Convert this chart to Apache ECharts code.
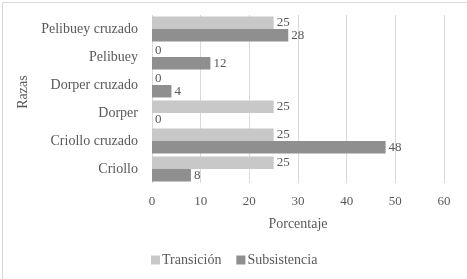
<!DOCTYPE html>
<html>
<head>
<meta charset="utf-8">
<script src="https://cdn.jsdelivr.net/npm/echarts@6/dist/echarts.min.js"></script>
<style>
html,body{margin:0;padding:0;background:#fff;font-family:serif;}
#c{width:467px;height:279px;}
#fontwarm{position:absolute;left:0;top:0;font-family:serif;font-size:14px;color:#fff;z-index:-1;}
</style>
</head>
<body>
<div id="fontwarm">Pelibuey 0123456789</div>
<div id="c"></div>
<script>
const categories = ['Pelibuey cruzado', 'Pelibuey', 'Dorper cruzado', 'Dorper', 'Criollo cruzado', 'Criollo'];
const transicion = [25, 0, 0, 25, 25, 25];
const subsistencia = [28, 12, 4, 0, 48, 8];
const xTicks = [0, 10, 20, 30, 40, 50, 60];

const FF = 'serif';
const chart = echarts.init(document.getElementById('c'));

function draw() {
  chart.setOption({
    animation: false,
    backgroundColor: '#fff',
    textStyle: { fontFamily: FF, color: '#595959' },
    graphic: [{
      type: 'rect', left: 0, top: 0,
      shape: { x: 0.5, y: 0.5, width: 466, height: 278 },
      style: { fill: 'none', stroke: '#d9d9d9', lineWidth: 1 }
    }],
    grid: { left: 152, right: 23, top: 15, bottom: 96, containLabel: false },
    legend: {
      left: 146, top: 248,
      itemWidth: 9, itemHeight: 9, itemGap: 15,
      icon: 'rect',
      textStyle: { fontFamily: FF, fontSize: 14, color: '#595959', padding: [0, 0, 0, -3] },
      data: ['Transición', 'Subsistencia']
    },
    xAxis: {
      type: 'value', min: xTicks[0], max: xTicks[xTicks.length - 1], interval: 10,
      name: 'Porcentaje', nameLocation: 'middle', nameGap: 34,
      nameTextStyle: { fontFamily: FF, fontSize: 14, color: '#595959' },
      axisLine: { show: false }, axisTick: { show: false },
      axisLabel: { fontFamily: FF, fontSize: 13, color: '#595959', margin: 12 },
      splitLine: { lineStyle: { color: '#d9d9d9', width: 1 } }
    },
    yAxis: {
      type: 'category', data: categories, inverse: true,
      name: 'Razas', nameLocation: 'middle', nameGap: 117, nameRotate: 90,
      nameTextStyle: { fontFamily: FF, fontSize: 14, color: '#595959', padding: [0, 0, 0, 14] },
      axisLine: { show: false }, axisTick: { show: false },
      axisLabel: { fontFamily: FF, fontSize: 14, color: '#595959', margin: 14 },
      splitLine: { show: false }
    },
    series: [
      {
        name: 'Transición', type: 'bar', data: transicion,
        barGap: '0%', barCategoryGap: '11%',
        itemStyle: { color: '#c8c8c8' },
        label: { show: true, position: 'right', distance: 3, fontFamily: FF, fontSize: 13, color: '#595959' }
      },
      {
        name: 'Subsistencia', type: 'bar', data: subsistencia,
        barGap: '0%', barCategoryGap: '11%',
        itemStyle: { color: '#8f8f8f' },
        label: { show: true, position: 'right', distance: 3, fontFamily: FF, fontSize: 13, color: '#595959' }
      }
    ]
  }, true);
}

draw();
if (document.fonts && document.fonts.ready) {
  document.fonts.ready.then(function () {
    chart.clear();
    draw();
  });
}
</script>
</body>
</html>
